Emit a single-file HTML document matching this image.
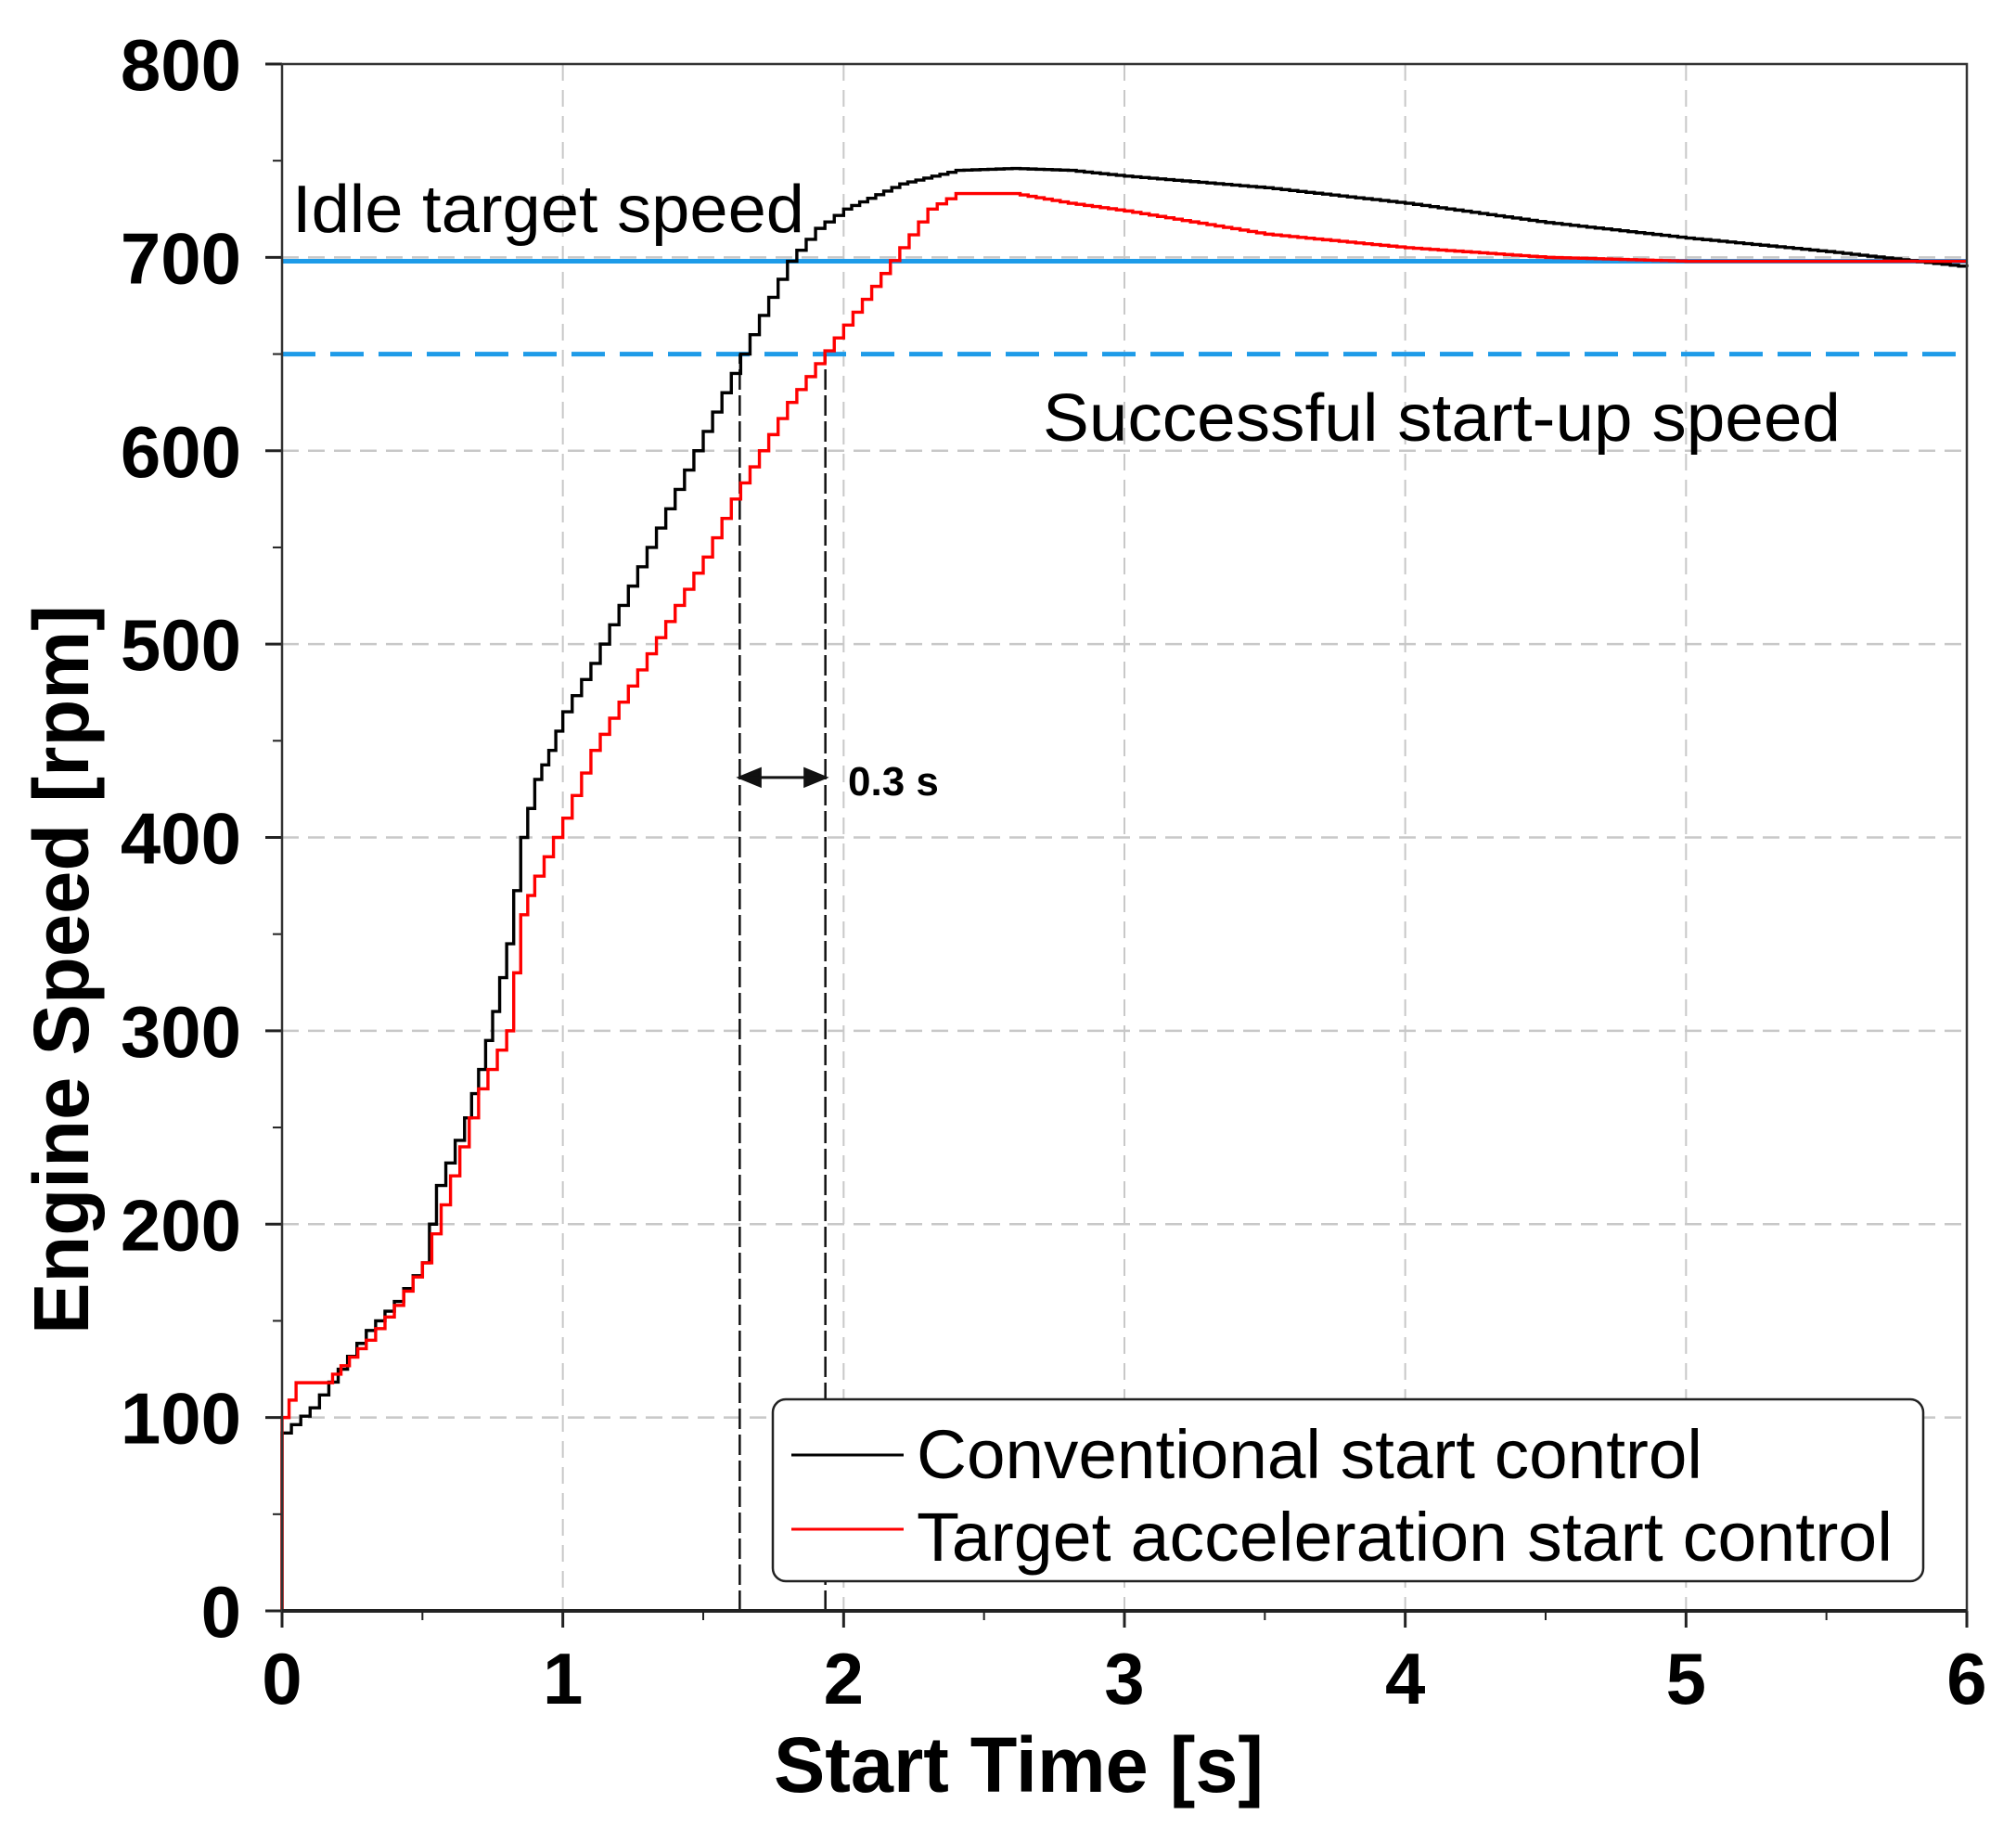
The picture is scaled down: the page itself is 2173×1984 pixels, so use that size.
<!DOCTYPE html>
<html><head><meta charset="utf-8"><style>
html,body{margin:0;padding:0;background:#fff;}
svg{display:block;font-family:"Liberation Sans",Arial,sans-serif;}
</style></head><body>
<svg id="chart" width="2173" height="1984" viewBox="0 0 2173 1984" xmlns="http://www.w3.org/2000/svg">
<g id="grid"></g>
<g id="refs"></g>
<g id="series"></g>
<g id="axes"></g>
<text x="315" y="250" font-size="72" fill="#000" textLength="552" lengthAdjust="spacingAndGlyphs">Idle target speed</text>
<text x="1124" y="475" font-size="72" fill="#000" textLength="860" lengthAdjust="spacingAndGlyphs">Successful start-up speed</text>
<text x="914" y="857" font-size="44" font-weight="bold" fill="#000">0.3 s</text>
<g>
<rect x="833" y="1508" width="1240" height="196" rx="14" fill="#fff" stroke="#222" stroke-width="2.5"/>
<line x1="853" y1="1568" x2="974" y2="1568" stroke="#000" stroke-width="3"/>
<text x="988" y="1593" font-size="74" textLength="847" lengthAdjust="spacingAndGlyphs">Conventional start control</text>
<line x1="853" y1="1648" x2="974" y2="1648" stroke="#ff0000" stroke-width="3"/>
<text x="988" y="1682" font-size="74" textLength="1052" lengthAdjust="spacingAndGlyphs">Target acceleration start control</text>
</g>
<text x="1098" y="1931" font-size="84" font-weight="bold" text-anchor="middle" textLength="528" lengthAdjust="spacingAndGlyphs">Start Time [s]</text>
<text transform="translate(95,1045) rotate(-90)" font-size="84" font-weight="bold" text-anchor="middle" textLength="786" lengthAdjust="spacingAndGlyphs">Engine Speed [rpm]</text>
</svg>
<script>
const xTicks=[0,1,2,3,4,5,6];
const yTicks=[0,100,200,300,400,500,600,700,800];
const idleTarget=698;
const startupSpeed=650;
const markerTimes=[1.63,1.935];
const convT=[0,0,0.1,0.2,0.3,0.4,0.5,0.55,0.65,0.7,0.75,0.8,0.85,0.9,0.95,1.0,1.1,1.2,1.3,1.4,1.5,1.6,1.7,1.8,1.9,2.0,2.2,2.4,2.6,2.8,3.0,3.5,4.0,4.5,5.0,5.5,6.0];
const convV=[0,92,105,125,145,160,180,220,255,280,310,345,400,430,445,465,490,520,550,580,610,640,670,698,715,725,738,745,746,745,742,736,728,718,710,703,695];
const targT=[0,0,0.05,0.15,0.3,0.4,0.5,0.6,0.7,0.8,0.85,0.9,1.0,1.1,1.2,1.3,1.4,1.5,1.6,1.7,1.8,1.9,2.0,2.1,2.2,2.3,2.4,2.6,2.8,3.0,3.5,4.0,4.5,5.0,6.0];
const targV=[0,100,118,118,140,158,180,225,270,300,360,380,410,445,470,495,520,545,575,600,625,645,665,685,705,725,733,733,728,724,712,705,700,698,698];
const L=304,R=2120,T=69,B=1736;
const xs=t=>L+(R-L)*t/6;
const ys=v=>B-(B-T)*v/800;
const NS="http://www.w3.org/2000/svg";
function mk(tag,attrs,parent){const e=document.createElementNS(NS,tag);for(const k in attrs)e.setAttribute(k,attrs[k]);parent.appendChild(e);return e;}
const grid=document.getElementById('grid'),axes=document.getElementById('axes'),refs=document.getElementById('refs'),series=document.getElementById('series');
xTicks.forEach(t=>{if(t>0&&t<6){const g=mk('line',{x1:xs(t),x2:xs(t),y1:T,y2:B,stroke:'#c8c8c8','stroke-width':2,'stroke-dasharray':'18,10'},grid);

}
const tk=mk('line',{x1:xs(t),x2:xs(t),y1:B,y2:B+18,stroke:'#222','stroke-width':3},axes);


const lb=mk('text',{x:xs(t),y:B+100,'font-size':78,'font-weight':'bold','text-anchor':'middle'},axes);lb.textContent=t;


if(t<6){const m=mk('line',{x1:xs(t+0.5),x2:xs(t+0.5),y1:B,y2:B+10,stroke:'#222','stroke-width':2},axes);

}});
yTicks.forEach(v=>{if(v>0&&v<800){const g=mk('line',{x1:L,x2:R,y1:ys(v),y2:ys(v),stroke:'#c8c8c8','stroke-width':2.5,'stroke-dasharray':'18,10'},grid);

}
const tk=mk('line',{x1:L-18,x2:L,y1:ys(v),y2:ys(v),stroke:'#222','stroke-width':3},axes);


const lb=mk('text',{x:L-44,y:ys(v)+28,'font-size':78,'font-weight':'bold','text-anchor':'end'},axes);lb.textContent=v;


if(v<800){const m=mk('line',{x1:L-10,x2:L,y1:ys(v+50),y2:ys(v+50),stroke:'#222','stroke-width':2},axes);

}});
const frame=mk('rect',{x:L,y:T,width:R-L,height:B-T,fill:'none',stroke:'#333','stroke-width':2.5},axes);


const bx=mk('line',{x1:L,x2:R,y1:B,y2:B,stroke:'#222','stroke-width':4},axes);


const idle=mk('line',{x1:L,x2:R,y1:ys(idleTarget),y2:ys(idleTarget),stroke:'#1e9be8','stroke-width':5},refs);


const su=mk('line',{x1:L,x2:R,y1:ys(startupSpeed),y2:ys(startupSpeed),stroke:'#1e9be8','stroke-width':5,'stroke-dasharray':'36,16'},refs);


markerTimes.forEach(t=>{const m=mk('line',{x1:xs(t),x2:xs(t),y1:B,y2:ys(startupSpeed),stroke:'#111','stroke-width':2.5,'stroke-dasharray':'22,6'},refs);

});
const ay=ys(431);
const arr=mk('path',{d:`M${xs(markerTimes[0])} ${ay}H${xs(markerTimes[1])} M${xs(markerTimes[0])} ${ay}l22 -9v18z M${xs(markerTimes[1])} ${ay}l-22 -9v18z`,stroke:'#111','stroke-width':3,fill:'#111'},refs);


function stepPath(T_,V_){let d=`M${xs(T_[0])} ${ys(V_[0])}`;for(let i=1;i<T_.length;i++){const x0=xs(T_[i-1]),x1=xs(T_[i]),y0=ys(V_[i-1]),y1=ys(V_[i]);const n=Math.max(1,Math.round((x1-x0)/9));for(let k=1;k<=n;k++){d+=`H${x0+(x1-x0)*k/n}V${y0+(y1-y0)*k/n}`;}}return d;}
const pc=mk('path',{d:stepPath(convT,convV),fill:'none',stroke:'#000','stroke-width':3.4},series);


const pt=mk('path',{d:stepPath(targT,targV),fill:'none',stroke:'#ff0000','stroke-width':3.4},series);


</script>
</body></html>
